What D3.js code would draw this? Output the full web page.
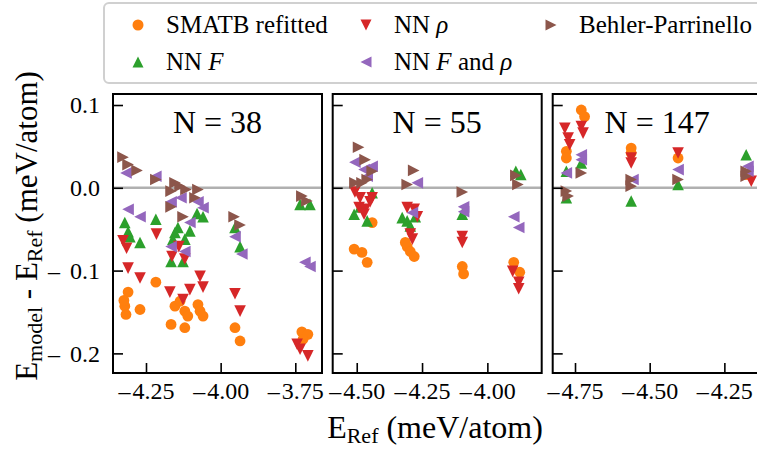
<!DOCTYPE html>
<html>
<head>
<meta charset="utf-8">
<script src="https://cdn.jsdelivr.net/npm/d3@7"></script>
<style>
    body { margin: 0; background: #fff; }
    svg, text { font-family: "Liberation Serif", "Times New Roman", serif; }
</style>
</head>
<body>
<svg id="chart"></svg>
<script>

// panels
const titles = ['N = 38', 'N = 55', 'N = 147'];
const xDomains = [[-4.3605, -3.6606], [-4.592, -3.792], [-4.8247, -4.125]];
const xTicks = [[-4.25, -4.00, -3.75], [-4.50, -4.25, -4.00], [-4.75, -4.50, -4.25]];
const yDomain = [0.1133, -0.2237];
const yTicks = [0.1, 0.0, -0.1, -0.2];

// series: [E_ref, E_model - E_ref]
const smatb38 = [[-4.310, -0.126], [-4.321, -0.143], [-4.317, -0.153], [-4.324, -0.136], [-4.270, -0.147],
    [-4.217, -0.114], [-4.166, -0.165], [-4.153, -0.143], [-4.136, -0.137], [-4.120, -0.149], [-4.120, -0.169],
    [-4.110, -0.155], [-4.076, -0.141], [-4.069, -0.149], [-4.059, -0.155], [-3.952, -0.169], [-3.935, -0.185],
    [-3.728, -0.174], [-3.708, -0.177], [-3.724, -0.183]];
const nnF38 = [[-4.321, -0.042], [-4.310, -0.053], [-4.304, -0.059], [-4.270, -0.066], [-4.217, -0.038],
    [-4.160, -0.062], [-4.153, -0.054], [-4.143, -0.048], [-4.120, -0.062], [-4.103, -0.052], [-4.166, -0.089],
    [-4.126, -0.089], [-4.079, -0.031], [-4.059, -0.035], [-3.952, -0.048], [-3.935, -0.071], [-3.734, -0.020],
    [-3.701, -0.020]];
const nnRho38 = [[-4.327, -0.064], [-4.315, -0.073], [-4.215, -0.056], [-4.163, -0.083], [-4.140, -0.071],
    [-4.120, -0.086], [-4.310, -0.097], [-4.270, -0.109], [-4.170, -0.126], [-4.126, -0.135], [-4.103, -0.123],
    [-4.069, -0.107], [-4.059, -0.120], [-3.952, -0.128], [-3.935, -0.149], [-3.744, -0.189], [-3.734, -0.195],
    [-3.708, -0.203]];
const nnFRho38 = [[-4.317, 0.018], [-4.217, 0.014], [-4.310, -0.026], [-4.270, -0.035], [-4.166, -0.017],
    [-4.133, -0.012], [-4.076, -0.017], [-4.059, -0.024], [-4.103, -0.042], [-4.166, -0.071], [-4.120, -0.077],
    [-3.952, -0.059], [-3.929, -0.080], [-3.718, -0.090], [-3.701, -0.095]];
const bp38 = [[-4.327, 0.037], [-4.310, 0.028], [-4.280, 0.021], [-4.217, 0.010], [-4.153, 0.006],
    [-4.136, 0.002], [-4.116, -0.002], [-4.076, -0.002], [-4.166, -0.004], [-4.086, -0.012], [-4.166, -0.023],
    [-4.126, -0.035], [-3.955, -0.035], [-3.935, -0.045], [-3.728, -0.010], [-3.711, -0.016]];

const smatb55 = [[-4.510, -0.074], [-4.480, -0.078], [-4.460, -0.090], [-4.441, -0.042], [-4.307, -0.071],
    [-4.295, -0.077], [-4.280, -0.083], [-4.314, -0.066], [-4.096, -0.095], [-4.091, -0.104], [-3.899, -0.090],
    [-3.876, -0.102]];
const nnF55 = [[-4.441, -0.006], [-4.510, -0.032], [-4.460, -0.040], [-4.487, -0.023], [-4.307, -0.040],
    [-4.295, -0.046], [-4.326, -0.036], [-4.276, -0.035], [-4.096, -0.032], [-3.891, 0.020], [-3.872, 0.016]];
const nnRho55 = [[-4.507, -0.005], [-4.487, -0.012], [-4.441, -0.012], [-4.491, -0.024], [-4.468, -0.026],
    [-4.472, -0.032], [-4.449, -0.017], [-4.307, -0.024], [-4.280, -0.026], [-4.268, -0.035], [-4.295, -0.056],
    [-4.287, -0.062], [-4.096, -0.059], [-4.096, -0.066], [-3.903, -0.101], [-3.880, -0.114], [-3.880, -0.122]];
const nnFRho55 = [[-4.507, 0.031], [-4.472, 0.022], [-4.441, 0.026], [-4.460, 0.014], [-4.268, 0.006],
    [-4.287, -0.030], [-4.091, -0.023], [-4.091, -0.029], [-3.899, -0.035], [-3.880, -0.048]];
const bp55 = [[-4.493, 0.049], [-4.468, 0.034], [-4.441, 0.020], [-4.507, 0.006], [-4.480, 0.006],
    [-4.460, 0.010], [-4.282, 0.021], [-4.307, 0.004], [-4.096, -0.005], [-3.891, 0.015], [-3.883, 0.004]];

const smatb147 = [[-4.729, 0.094], [-4.718, 0.086], [-4.779, 0.044], [-4.779, 0.036], [-4.562, 0.048],
    [-4.562, 0.042], [-4.405, 0.036], [-4.177, 0.016]];
const nnF147 = [[-4.779, 0.020], [-4.729, 0.030], [-4.779, -0.012], [-4.562, -0.016], [-4.405, 0.004],
    [-4.177, 0.040]];
const nnRho147 = [[-4.784, 0.072], [-4.773, 0.060], [-4.768, 0.052], [-4.729, 0.074], [-4.723, 0.066],
    [-4.562, 0.036], [-4.562, 0.030], [-4.405, 0.042], [-4.160, 0.008]];
const nnFRho147 = [[-4.779, 0.018], [-4.729, 0.040], [-4.729, 0.034], [-4.556, 0.010], [-4.405, 0.022],
    [-4.171, 0.026], [-4.171, 0.020]];
const bp147 = [[-4.779, -0.004], [-4.773, -0.010], [-4.729, 0.018], [-4.562, 0.010], [-4.562, 0.002],
    [-4.405, 0.010], [-4.177, 0.014], [-4.177, 0.020]];

// model order = plotting order
const models = ['smatb', 'nnF', 'nnRho', 'nnFRho', 'bp'];
const colors = ['#ff7f0e', '#2ca02c', '#d62728', '#9467bd', '#8c564b'];
const markers = ['o', '^', 'v', '<', '>'];
const panelData = [
    [smatb38, nnF38, nnRho38, nnFRho38, bp38],
    [smatb55, nnF55, nnRho55, nnFRho55, bp55],
    [smatb147, nnF147, nnRho147, nnFRho147, bp147]
];


class ErrorPanels {

    constructor() {
        this.vizWidth = 757;
        this.vizHeight = 450;
        this.panelLeft = [113, 332.7, 552.7];
        this.panelWidth = 209;
        this.panelTop = 94;
        this.panelHeight = 279;

        this.svg = d3.select('#chart')
            .attr('width', this.vizWidth)
            .attr('height', this.vizHeight);

        this.yScale = d3.scaleLinear()
            .domain(yDomain)
            .range([this.panelTop, this.panelTop + this.panelHeight]);

        for (let i = 0; i < 3; i++) {
            this.drawPanel(i);
        }
        this.drawLegend();
        this.drawLabels();
    }

    markerPath(kind, r) {
        if (kind === 'o') {
            return d3.symbol(d3.symbolCircle, Math.PI * r * r)();
        }
        if (kind === '^') return `M0,${-r}L${-r},${r}L${r},${r}Z`;
        if (kind === 'v') return `M0,${r}L${-r},${-r}L${r},${-r}Z`;
        if (kind === '<') return `M${-r},0L${r},${-r}L${r},${r}Z`;
        return `M${r},0L${-r},${-r}L${-r},${r}Z`;
    }

    // U+2212 does not show up with the serif font here, use an en dash instead
    tickLabel(fmt, gap) {
        return d => {
            let s = fmt(Math.abs(d));
            return d < 0 ? '\u2013' + gap + s : s;
        };
    }

    drawPanel(i) {
        let left = this.panelLeft[i];
        let xScale = d3.scaleLinear()
            .domain(xDomains[i])
            .range([left, left + this.panelWidth]);

        let g = this.svg.append('g');

        g.append('clipPath')
            .attr('id', 'clip' + i)
            .append('rect')
            .attr('x', left)
            .attr('y', this.panelTop)
            .attr('width', this.panelWidth)
            .attr('height', this.panelHeight);

        // zero line
        g.append('line')
            .attr('x1', left)
            .attr('x2', left + this.panelWidth)
            .attr('y1', this.yScale(0))
            .attr('y2', this.yScale(0))
            .attr('stroke', '#b0b0b0')
            .attr('stroke-width', 2.5);

        let pts = g.append('g').attr('clip-path', 'url(#clip' + i + ')');
        panelData[i].forEach((series, k) => {
            let r = markers[k] === 'o' ? 5.4 : 5.8;
            pts.selectAll('.m' + k)
                .data(series)
                .join('path')
                .attr('class', 'm' + k)
                .attr('transform', d => 'translate(' + xScale(d[0]) + ',' + this.yScale(d[1]) + ')')
                .attr('d', this.markerPath(markers[k], r))
                .attr('fill', colors[k]);
        });

        // axes, ticks pointing inward
        let xAxis = d3.axisBottom(xScale)
            .tickValues(xTicks[i])
            .tickSize(-10)
            .tickPadding(9)
            .tickFormat(this.tickLabel(d3.format('.2f'), '\u200A'));
        let xg = g.append('g')
            .attr('transform', 'translate(0,' + (this.panelTop + this.panelHeight) + ')')
            .call(xAxis);

        let yAxis = d3.axisLeft(this.yScale)
            .tickValues(yTicks)
            .tickSize(-10)
            .tickPadding(13)
            .tickFormat(i === 0 ? this.tickLabel(d3.format('.1f'), '\u200A'.repeat(5)) : '');
        let yg = g.append('g')
            .attr('transform', 'translate(' + left + ',0)')
            .call(yAxis);

        [xg, yg].forEach(a => {
            a.attr('font-family', null).attr('font-size', 24);
            a.select('.domain').remove();
            a.selectAll('.tick line').attr('stroke', '#000').attr('stroke-width', 1.6);
            a.selectAll('.tick text').attr('fill', '#000');
        });

        g.append('rect')
            .attr('x', left)
            .attr('y', this.panelTop)
            .attr('width', this.panelWidth)
            .attr('height', this.panelHeight)
            .attr('fill', 'none')
            .attr('stroke', '#000')
            .attr('stroke-width', 2);

        g.append('text')
            .attr('x', left + this.panelWidth / 2)
            .attr('y', 133)
            .attr('text-anchor', 'middle')
            .style('font-size', '32px')
            .text(titles[i]);
    }

    drawLegend() {
        let lg = this.svg.append('g');
        lg.append('rect')
            .attr('x', 104)
            .attr('y', 3)
            .attr('width', 700)
            .attr('height', 80)
            .attr('rx', 5)
            .attr('fill', '#fff')
            .attr('stroke', '#d0d0d0')
            .attr('stroke-width', 2);

        // column-major like matplotlib, ncol = 3
        let colX = [138, 366, 551];
        let rowY = [25, 62];
        let labels = [
            [['SMATB refitted', false]],
            [['NN ', false], ['F', true]],
            [['NN ', false], ['\u03C1', true]],
            [['NN ', false], ['F', true], [' and ', false], ['\u03C1', true]],
            [['Behler-Parrinello', false]]
        ];
        models.forEach((m, k) => {
            let cx = colX[Math.floor(k / 2)];
            let cy = rowY[k % 2];
            lg.append('path')
                .attr('transform', 'translate(' + cx + ',' + cy + ')')
                .attr('d', this.markerPath(markers[k], 5.5))
                .attr('fill', colors[k]);
            let t = lg.append('text')
                .attr('x', cx + 28)
                .attr('y', cy + 8)
                .style('font-size', '25px');
            labels[k].forEach(p => {
                t.append('tspan')
                    .style('font-style', p[1] ? 'italic' : 'normal')
                    .text(p[0]);
            });
        });
    }

    drawLabels() {
        // x label
        let xl = this.svg.append('text')
            .attr('x', 435)
            .attr('y', 438)
            .attr('text-anchor', 'middle')
            .style('font-size', '32px');
        xl.append('tspan').text('E');
        xl.append('tspan').attr('baseline-shift', '-22%').style('font-size', '22px').text('Ref');
        xl.append('tspan').text(' (meV/atom)');

        // y label
        let yl = this.svg.append('text')
            .attr('transform', 'translate(37,226) rotate(-90)')
            .attr('text-anchor', 'middle')
            .style('font-size', '31px');
        yl.append('tspan').text('E');
        yl.append('tspan').attr('baseline-shift', '-22%').style('font-size', '22px').text('model');
        yl.append('tspan').text(' - E');
        yl.append('tspan').attr('baseline-shift', '-22%').style('font-size', '22px').text('Ref');
        yl.append('tspan').text(' (meV/atom)');
    }
}

new ErrorPanels();
</script>
</body>
</html>
